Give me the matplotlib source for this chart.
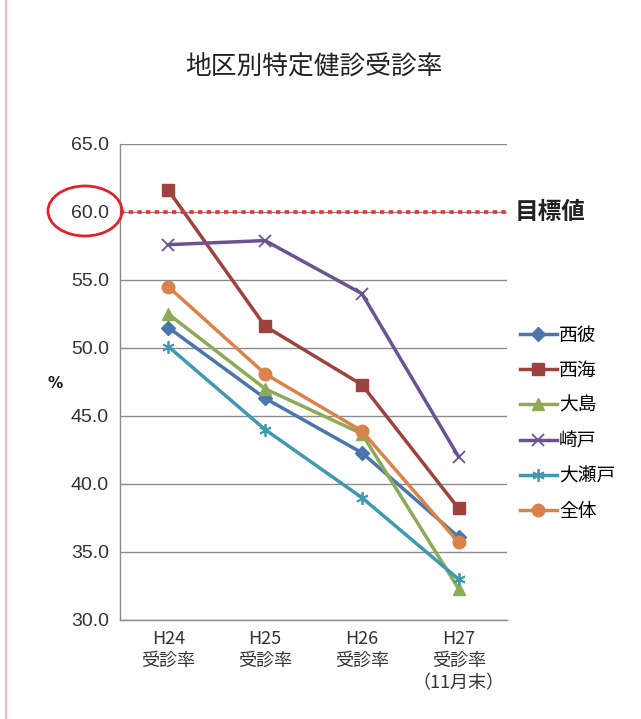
import matplotlib
matplotlib.use("Agg")
import matplotlib.pyplot as plt
from matplotlib.patches import Ellipse
from matplotlib.lines import Line2D

plt.rcParams['font.family'] = ['Noto Sans CJK JP', 'DejaVu Sans']

categories = ["H24\n受診率", "H25\n受診率", "H26\n受診率", "H27\n受診率\n（11月末）"]
series_names = ["西彼", "西海", "大島", "崎戸", "大瀬戸", "全体"]
saihi = [51.5, 46.3, 42.3, 36.1]
saikai = [61.6, 51.6, 47.3, 38.2]
oshima = [52.5, 47.0, 43.7, 32.3]
sakito = [57.6, 57.9, 54.0, 42.0]
oseto = [50.1, 44.0, 39.0, 33.0]
zentai = [54.5, 48.1, 43.9, 35.7]
target = 60.0
yticks = [30.0, 35.0, 40.0, 45.0, 50.0, 55.0, 60.0, 65.0]

values = [saihi, saikai, oshima, sakito, oseto, zentai]
colors = ["#4A76AC", "#9E4240", "#8DAA57", "#6A5393", "#3F9AB0", "#D9834A"]
markers = ["D", "s", "^", "x", (6, 2, 0), "o"]
msizes = [7, 9, 9, 9, 9, 9]

fig = plt.figure(figsize=(6.41, 7.19), dpi=100)
ax = fig.add_axes([120/641, 1-620/719, (507-120)/641, (620-144)/719])

x = list(range(len(categories)))
handles = []
for name, vals, c, m, ms in zip(series_names, values, colors, markers, msizes):
    mew = 1.3 if m in ("x",) or isinstance(m, tuple) else 1
    h, = ax.plot(x, vals, color=c, lw=2.5, marker=m, markersize=ms,
                 markeredgewidth=mew, markerfacecolor=c, markeredgecolor=c,
                 label=name, zorder=3)
    handles.append(h)

ax.axhline(target, color="#E8322F", lw=2.6, ls=(0, (1.2, 1.2)), zorder=4)

ax.set_xlim(-0.5, 3.5)
ax.set_ylim(30, 65)
ax.set_yticks(yticks)
ax.set_yticklabels([f"{v:.1f}" for v in yticks], fontsize=14, color="#333333",
                   family=['Liberation Sans', 'DejaVu Sans'])
ax.set_xticks(x)
ax.set_xticklabels(categories, fontsize=13, color="#333333", linespacing=1.3)
ax.tick_params(axis='both', length=0, pad=8)
ax.tick_params(axis='x', pad=7)
ax.yaxis.grid(True, color="#8c8c8c", lw=1)
ax.set_axisbelow(True)
for s in ["top", "right"]:
    ax.spines[s].set_visible(False)
for s in ["left", "bottom"]:
    ax.spines[s].set_color("#8c8c8c")
    ax.spines[s].set_linewidth(1)

fig.text(314/641, 1-68/719, "地区別特定健診受診率", ha="center", va="center",
         fontsize=18.5, color="#222222")
fig.text(55/641, 1-383/719, "%", ha="center", va="center", fontsize=11,
         fontweight="bold", color="#111111", family=['DejaVu Sans'])
fig.text(515/641, 1-212/719, "目標値", ha="left", va="center", fontsize=17,
         fontweight="bold", color="#222222")

ell = Ellipse((85/100, (719-211)/100), 0.74, 0.50, transform=fig.dpi_scale_trans,
              fill=False, edgecolor="#E0222A", lw=2)
fig.patches.append(ell)

fig.add_artist(Line2D([6/641, 6/641], [0, 1], color="#F2B6CC", lw=1.5,
                      transform=fig.transFigure))

leg = fig.legend(handles=handles, loc="upper left",
                 bbox_to_anchor=(512/641, 1-317/719), frameon=False,
                 fontsize=13.5, handlelength=2.0, handletextpad=0.1,
                 labelspacing=0.76, borderaxespad=0)

fig.savefig("out.png", dpi=100, facecolor="white")
